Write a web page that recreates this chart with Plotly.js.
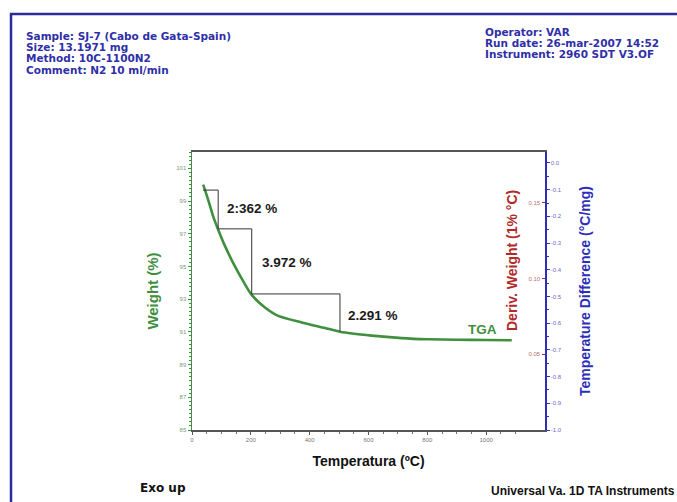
<!DOCTYPE html>
<html>
<head>
<meta charset="utf-8">
<script src="https://cdn.plot.ly/plotly-3.0.1.min.js"></script>
<style>
  html, body { margin: 0; padding: 0; background: #ffffff; }
  #chart { width: 677px; height: 502px; }
</style>
</head>
<body>
<div id="chart"></div>
<script>
// ---- data ----
const tempC = [38, 55, 72, 89, 112, 146, 174, 203, 248, 293, 373, 452, 503, 611, 713, 800, 900, 1000, 1087];
const weightPct = [100.0, 99.07, 98.06, 97.25, 96.26, 95.0, 94.1, 93.26, 92.49, 91.98, 91.58, 91.24, 91.01, 90.77, 90.62, 90.55, 90.52, 90.50, 90.49];
const stepTemp = [38, 89, 203, 503];
const stepWeight = [99.67, 97.30, 93.32, 91.03];
const stepLabels = ['2:362 %', '3.972 %', '2.291 %'];
const xTickVals = [0, 200, 400, 600, 800, 1000, 1200];
const weightTickVals = [85, 87, 89, 91, 93, 95, 97, 99, 101];
const derivTickVals = [0.05, 0.10, 0.15];
const derivTickText = ['0.05', '0.10', '0.15'];
const tdTickVals = [0, -0.1, -0.2, -0.3, -0.4, -0.5, -0.6, -0.7, -0.8, -0.9, -1.0];
const tdTickText = ['0.0', '-0.1', '-0.2', '-0.3', '-0.4', '-0.5', '-0.6', '-0.7', '-0.8', '-0.9', '-1.0'];
const headerLeft = ['Sample: SJ-7 (Cabo de Gata-Spain)', 'Size: 13.1971 mg', 'Method: 10C-1100N2', 'Comment: N2 10 ml/min'];
const headerRight = ['Operator: VAR', 'Run date: 26-mar-2007 14:52', 'Instrument: 2960 SDT V3.OF'];

// ---- build staircase path from the step values ----
const stairX = [], stairY = [];
for (let i = 0; i < stepTemp.length; i++) {
  if (i === 0) { stairX.push(stepTemp[0]); stairY.push(stepWeight[0]); continue; }
  stairX.push(stepTemp[i]); stairY.push(stepWeight[i - 1]);
  stairX.push(stepTemp[i]); stairY.push(stepWeight[i]);
}

// pixel -> paper helpers (plot area 192..545 x, 152..430 y)
const L = 192, R = 545, TOP = 152, BOT = 430;
const px = x => (x - L) / (R - L);
const py = y => (BOT - y) / (BOT - TOP);

const GREEN = '#3f8f3f', BLUE = '#2e2eb8', RED = '#b02a2a', HEAD = '#2f2fa8';
const FONT = 'Liberation Sans, Arial, sans-serif';
const WIDE = 'DejaVu Sans, Verdana, sans-serif';

const annotations = [];
headerLeft.forEach((t, i) => annotations.push({
  text: t, xref: 'paper', yref: 'paper', x: px(24), y: py([36, 47.2, 58.4, 69.6][i]),
  xanchor: 'left', yanchor: 'middle', showarrow: false,
  font: {family: WIDE, size: 10.5, color: HEAD, weight: 'bold'}
}));
headerRight.forEach((t, i) => annotations.push({
  text: t, xref: 'paper', yref: 'paper', x: px(483), y: py([32, 43.2, 54.4][i]),
  xanchor: 'left', yanchor: 'middle', showarrow: false,
  font: {family: WIDE, size: 10.5, color: HEAD, weight: 'bold'}
}));
// step labels
const labelPos = [[205, 98.57], [323, 95.23], [615, 91.98]];
stepLabels.forEach((t, i) => annotations.push({
  text: t, xref: 'x', yref: 'y', x: labelPos[i][0], y: labelPos[i][1],
  xanchor: 'center', yanchor: 'middle', showarrow: false,
  font: {family: FONT, size: 13.5, color: '#1a1a1a', weight: 'bold'}
}));
annotations.push({
  text: 'TGA', xref: 'x', yref: 'y', x: 986, y: 91.12, xanchor: 'center', yanchor: 'middle',
  showarrow: false, font: {family: FONT, size: 13.5, color: GREEN, weight: 'bold'}
});
annotations.push({
  text: 'Deriv. Weight (1% °C)', xref: 'paper', yref: 'paper', x: px(512), y: py(261),
  textangle: -90, xanchor: 'center', yanchor: 'middle', showarrow: false,
  font: {family: FONT, size: 14, color: RED, weight: 'bold'}
});
annotations.push({
  text: 'Exo up', xref: 'paper', yref: 'paper', x: px(138), y: py(488),
  xanchor: 'left', yanchor: 'middle', showarrow: false,
  font: {family: WIDE, size: 12, color: '#111', weight: 'bold'}
});
annotations.push({
  text: 'Universal Va. 1D TA Instruments', xref: 'paper', yref: 'paper', x: px(489), y: py(491),
  xanchor: 'left', yanchor: 'middle', showarrow: false,
  font: {family: FONT, size: 12, color: '#111', weight: 'bold'}
});

const traces = [
  {x: tempC, y: weightPct, type: 'scatter', mode: 'lines', yaxis: 'y',
   line: {color: GREEN, width: 2.6, shape: 'spline', smoothing: 0.6}, hoverinfo: 'skip', showlegend: false},
  {x: stairX, y: stairY, type: 'scatter', mode: 'lines', yaxis: 'y',
   line: {color: '#333', width: 1}, hoverinfo: 'skip', showlegend: false},
  {x: [], y: [], type: 'scatter', mode: 'lines', yaxis: 'y2', showlegend: false},
  {x: [], y: [], type: 'scatter', mode: 'lines', yaxis: 'y3', showlegend: false}
];

const layout = {
  width: 677, height: 502,
  margin: {l: L, r: 677 - R, t: TOP, b: 502 - BOT, pad: 0},
  paper_bgcolor: '#ffffff', plot_bgcolor: '#ffffff',
  font: {family: FONT},
  showlegend: false,
  xaxis: {
    range: [0, 1200], tickvals: xTickVals, ticks: 'outside', ticklen: 3, tickcolor: '#555',
    minor: {dtick: 50, ticks: 'outside', ticklen: 2, tickcolor: '#777'},
    showline: true, linecolor: '#555', linewidth: 1.6, mirror: true,
    showgrid: false, zeroline: false,
    tickfont: {size: 6, color: '#777'},
    title: {text: 'Temperatura (ºC)', standoff: 14, font: {family: FONT, size: 14, color: '#111', weight: 'bold'}}
  },
  yaxis: {
    range: [85, 102], tickvals: weightTickVals, ticks: 'outside', ticklen: 3, tickcolor: GREEN,
    minor: {dtick: 0.25, ticks: 'outside', ticklen: 2, tickcolor: GREEN},
    showline: true, linecolor: GREEN, linewidth: 1.5,
    showgrid: false, zeroline: false,
    tickfont: {size: 6, color: '#7a9a7a'},
    title: {text: 'Weight (%)', standoff: 14, font: {family: FONT, size: 15, color: GREEN, weight: 'bold'}}
  },
  yaxis2: {
    overlaying: 'y', side: 'right', anchor: 'x',
    range: [-1.0, 0.041], tickvals: tdTickVals, ticktext: tdTickText,
    ticks: 'outside', ticklen: 3, tickcolor: BLUE,
    minor: {dtick: 0.05, ticks: 'outside', ticklen: 2, tickcolor: BLUE},
    showline: true, linecolor: BLUE, linewidth: 1.6,
    showgrid: false, zeroline: false,
    tickfont: {size: 6, color: '#6a6acc'},
    title: {text: 'Temperature Difference (°C/mg)', standoff: 19, font: {family: FONT, size: 14, color: BLUE, weight: 'bold'}}
  },
  yaxis3: {
    overlaying: 'y', side: 'right', anchor: 'free', position: 1,
    range: [0, 0.1836], tickvals: derivTickVals, ticktext: derivTickText,
    ticks: 'inside', ticklen: 3, tickcolor: RED, ticklabelposition: 'inside',
    showline: false, showgrid: false, zeroline: false,
    tickfont: {size: 6, color: '#c07070'}
  },
  annotations: annotations,
  shapes: [
    {type: 'rect', xref: 'paper', yref: 'paper', x0: px(11), x1: px(700), y0: py(520), y1: py(14),
     line: {color: '#2b2b9a', width: 2.5}, fillcolor: 'rgba(0,0,0,0)', layer: 'below'}
  ]
};

Plotly.newPlot('chart', traces, layout, {staticPlot: true, displayModeBar: false});
</script>
</body>
</html>
